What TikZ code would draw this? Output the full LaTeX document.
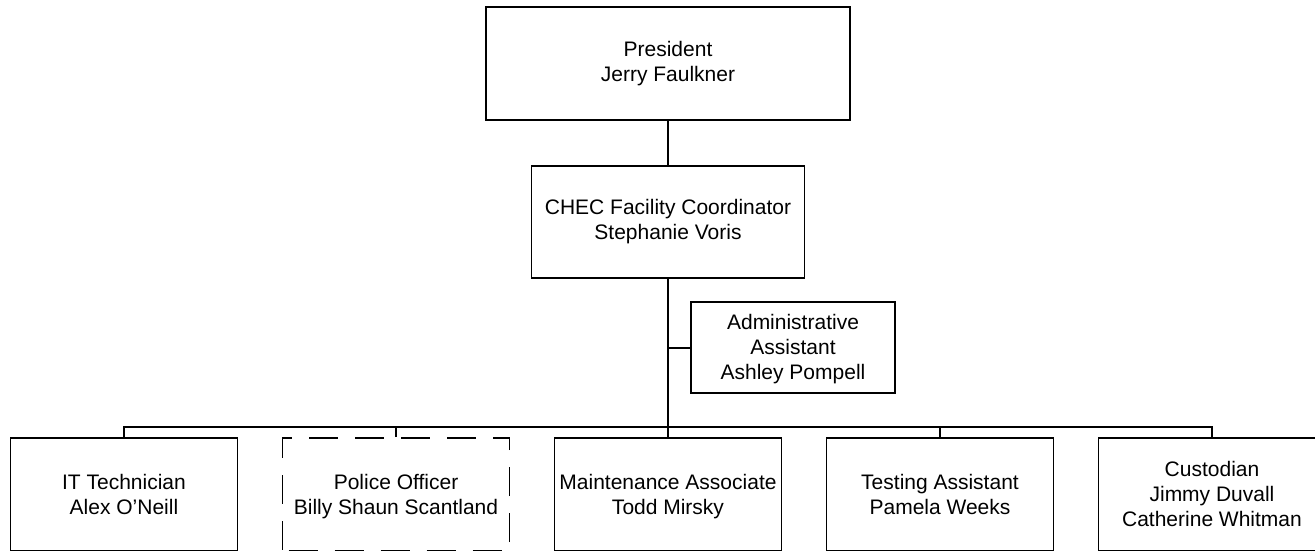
\documentclass[tikz,border=0pt]{standalone}
\usepackage{fontspec}
\setmainfont{Liberation Sans}

\newcommand\tstrut{\rule{0pt}{19pt}}
\newcommand\bstrut{\rule[-5pt]{0pt}{5pt}}

\tikzset{
  post/.style={draw,line width=1.7pt,inner sep=0pt,align=center,
    font=\fontsize{21}{25}\selectfont},
  staff/.style={post,minimum width=227pt,minimum height=113pt},
  link/.style={line width=2pt},
}

\begin{document}
\begin{tikzpicture}[x=1pt,y=-1pt]
\useasboundingbox (0,0) rectangle (1315,551);
\clip (0,0) rectangle (1315,551);
% top of the chart
\node[post,minimum width=364pt,minimum height=113pt] (pres) at (668,63.5) {President\\Jerry Faulkner};
\node[post,minimum width=273pt,minimum height=112pt] (chec) at (668,222) {CHEC Facility Coordinator\\Stephanie Voris};
\node[post,minimum width=204pt,minimum height=91pt] (admin) at (793,347.5) {\tstrut Administrative\\Assistant\\Ashley Pompell\bstrut};
% staff row
\node[staff] (it) at (124,494.5) {\tstrut IT Technician\\Alex O'Neill\bstrut};
\node[staff,dash pattern=on 29pt off 17pt,dash phase=40pt] (police) at (396,494.5) {\tstrut Police Officer\\Billy Shaun Scantland\bstrut};
\node[staff] (maint) at (668,494.5) {\tstrut Maintenance Associate\\Todd Mirsky\bstrut};
\node[staff] (test) at (940,494.5) {\tstrut Testing Assistant\\Pamela Weeks\bstrut};
\node[staff] (cust) at (1212,494.5) {\tstrut Custodian\\Jimmy Duvall\\Catherine Whitman\bstrut};
\coordinate (bus) at (668,427);
% lines
\draw[link] (pres.south) -- (chec.north);
\draw[link] (chec.south) -- (maint.north);
\draw[link] (admin.west) -- (admin.west -| maint.north);
\draw[link] (it.north) -- (it.north |- bus) -- (cust.north |- bus) -- (cust.north);
\draw[link] (police.north) -- (police.north |- bus);
\draw[link] (test.north) -- (test.north |- bus);
\end{tikzpicture}
\end{document}
